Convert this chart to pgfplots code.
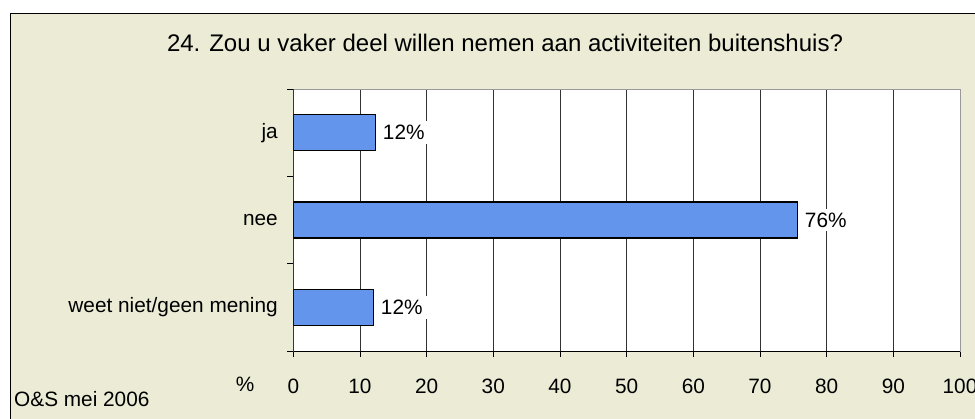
\documentclass[border=0pt]{standalone}
\usepackage{fontspec}
\setmainfont{Liberation Sans}
\usepackage{pgfplots}
\pgfplotsset{compat=1.18}
\definecolor{bgc}{RGB}{236,236,214}
\definecolor{barc}{RGB}{100,149,237}
\newcommand\cf{\fontsize{20.8}{24}\selectfont}
\begin{document}
\begin{tikzpicture}[x=1pt,y=1pt]
\useasboundingbox (0,0) rectangle (975,418);
\clip (0,0) rectangle (975,418);
\fill[white] (0,0) rectangle (975,418);
\draw[fill=bgc, line width=1.3pt] (10.5,404.5) rectangle (1000,-20);
\begin{axis}[at={(293.3pt,67pt)}, anchor=south west, scale only axis,
  width=666.7pt, height=262pt,
  xmin=0, xmax=100, ymin=-0.5, ymax=2.5,
  xbar, bar width=36pt,
  xtick={0,10,...,100}, xmajorgrids,
  grid style={black!80, line width=0.8pt},
  axis background/.style={fill=white},
  axis line style={gray!80, line width=1pt},
  tick align=outside, major tick length=6pt,
  xtick pos=bottom, ytick pos=left,
  tick style={black, line width=0.8pt},
  ytick={-0.5,0.5,1.5,2.5}, yticklabels={},
  extra y ticks={0,1,2},
  extra y tick labels={weet niet/geen mening,nee,ja},
  extra y tick style={major tick length=0pt},
  ticklabel style={font=\cf},
  yticklabel style={xshift=-12pt},
  xticklabel style={yshift=-18pt},
  /pgf/number format/assume math mode=true,
  nodes near coords={\pgfmathprintnumber{\pgfplotspointmeta}\%},
  point meta=explicit,
  every node near coord/.append style={font=\cf, fill=white, draw=none, anchor=west, xshift=3pt, inner sep=4pt},
]
\addplot[fill=barc, draw=black, line width=1.3pt] table[x=v, y=y, meta=lab] {
v y lab
12.0 0 12
75.6 1 76
12.3 2 12
};
\draw[black, line width=1pt] (rel axis cs:0,1) -- (rel axis cs:0,0) -- (rel axis cs:1,0);
\end{axis}
\node[font=\fontsize{24}{28}\selectfont] at (505,375) {24. Zou u vaker deel willen nemen aan activiteiten buitenshuis?};
\node[font=\cf] at (245,34) {\%};
\node[font=\cf, anchor=west, inner sep=0pt] at (14,19) {O\&S mei 2006};
\end{tikzpicture}
\end{document}
